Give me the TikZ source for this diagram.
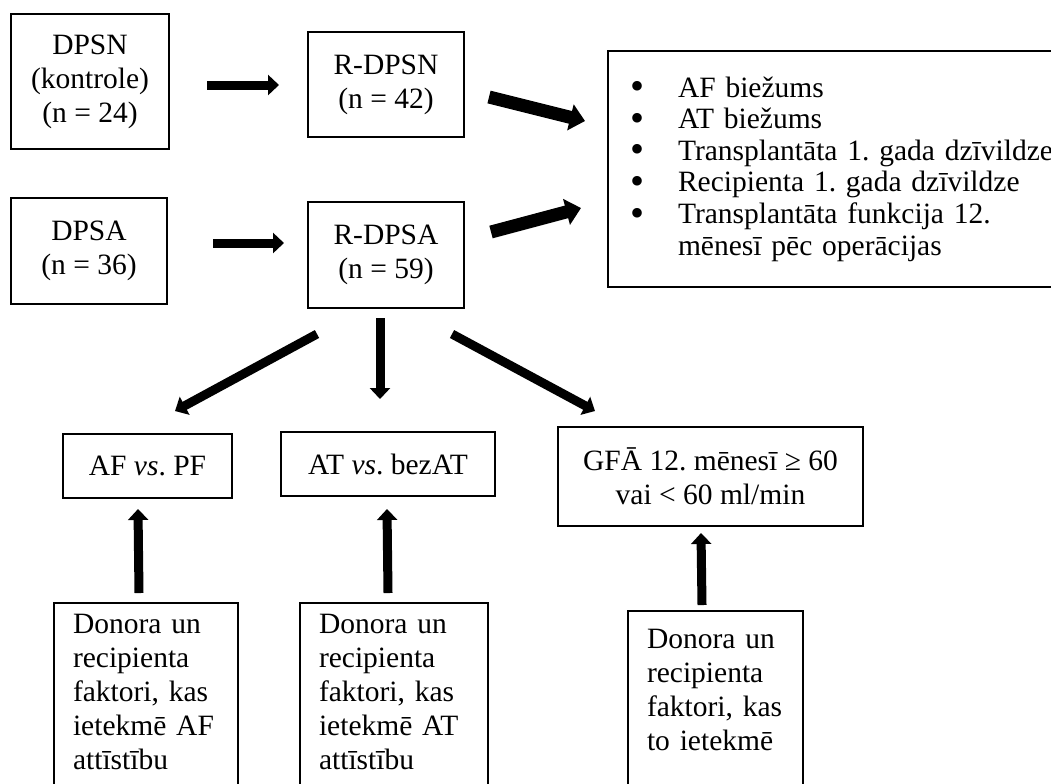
\documentclass[tikz,border=0pt]{standalone}
\usepackage{fontspec}
\setmainfont{Liberation Serif}
\usetikzlibrary{arrows.meta,calc}
\frenchspacing
\newlength\pxu
\setlength\pxu{0.4pt}
\newcommand{\itm}{\makebox[48\pxu][l]{\raisebox{-1pt}{\fontsize{16}{12}\selectfont\textbullet}}}
\tikzset{
  box/.style={draw, line width=0.8pt, align=center, inner sep=0pt},
  txtbox/.style={draw, line width=0.8pt, anchor=north west, align=left, inner xsep=19\pxu, text height=20\pxu, text depth=200\pxu},
  arr/.style={line width=3.6pt, -{Triangle[length=4.4pt,width=8pt]}},
  bigarr/.style={line width=5.2pt, -{Triangle[length=6pt,width=10.4pt]}},
}
\begin{document}
\begin{tikzpicture}[x=0.4pt, y=-0.4pt, font=\fontsize{11.8}{13.6}\selectfont]
    \useasboundingbox (0,0) rectangle (1051,783);
    \clip (0,0) rectangle (1051,783);
    \node[box, minimum width=158\pxu, minimum height=135\pxu] (dpsn) at (90,81.5) {DPSN\\(kontrole)\\(n = 24)};
    \node[box, minimum width=156\pxu, minimum height=105\pxu] (rdpsn) at (386,84.5) {R-DPSN\\(n = 42)};
    \node[box, minimum width=156\pxu, minimum height=106\pxu] (dpsa) at (89,251) {DPSA\\(n = 36)};
    \node[box, minimum width=156\pxu, minimum height=106\pxu] (rdpsa) at (386,255) {R-DPSA\\(n = 59)};
    \node[draw, line width=0.8pt, anchor=north west, minimum height=236\pxu, text width=435\pxu, inner xsep=22\pxu, inner ysep=0pt, align=left, font=\fontsize{11.8}{12.64}\selectfont] (out) at (607,50)
      {\itm AF biežums\\
       \itm AT biežums\\
       \itm Transplantāta 1. gada dzīvildze\\
       \itm Recipienta 1. gada dzīvildze\\
       \itm Transplantāta funkcija 12.\\
       \hspace*{48\pxu}mēnesī pēc operācijas};
    \node[box, minimum width=169\pxu, minimum height=64\pxu] (afpf) at (147.5,466) {AF \textit{vs}. PF};
    \node[box, minimum width=214\pxu, minimum height=64\pxu] (atbez) at (388,464) {AT \textit{vs}. bezAT};
    \node[box, minimum width=305\pxu, minimum height=99\pxu] (gfa) at (710.5,476.5) {GFĀ 12. mēnesī ≥ 60\\vai < 60 ml/min};
    \node[txtbox, text width=146\pxu, inner ysep=10\pxu] (fak1) at (53,602) {Donora un\\recipienta\\faktori, kas\\ietekmē AF\\attīstību};
    \node[txtbox, text width=150\pxu, inner ysep=10\pxu] (fak2) at (299,602) {Donora un\\recipienta\\faktori, kas\\ietekmē AT\\attīstību};
    \node[txtbox, text width=137\pxu, inner ysep=17\pxu] (fak3) at (627,610) {Donora un\\recipienta\\faktori, kas\\to ietekmē};
    \draw[arr] ($(dpsn.east)+(37,3.5)$) -- ($(rdpsn.west)+(-28,0.5)$);
    \draw[arr] ($(dpsa.east)+(45,-8)$) -- ($(rdpsa.west)+(-23,-12)$);
    \draw[bigarr] ($(rdpsn.east)+(24,12.5)$) -- ($(out.west)+(-22,-48)$);
    \draw[bigarr] ($(rdpsa.east)+(26,-23)$) -- ($(out.west)+(-26,39)$);
    \draw[arr] ($(rdpsa.south)+(-69,25)$) -- ($(afpf.north)+(27.5,-22)$);
    \draw[arr] ($(rdpsa.south)+(-6,9)$) -- ($(atbez.north)+(-8,-32)$);
    \draw[arr] ($(rdpsa.south)+(66,25)$) -- ($(gfa.north)+(-115.5,-15)$);
    \draw[arr] ($(fak1.north)+(-7,-9)$) -- ($(afpf.south)+(-9.5,10)$);
    \draw[arr] ($(fak2.north)+(-6,-9)$) -- ($(atbez.south)+(-1,12)$);
    \draw[arr] ($(fak3.north)+(-13.5,-5)$) -- ($(gfa.south)+(-9.5,6)$);
\end{tikzpicture}
\end{document}
